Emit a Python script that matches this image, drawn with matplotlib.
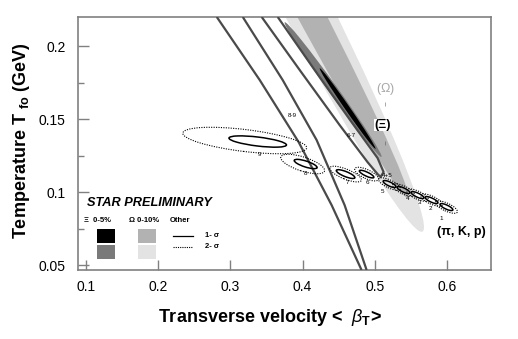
import matplotlib
matplotlib.use("Agg")
import matplotlib.pyplot as plt
from matplotlib.patches import Ellipse, Rectangle
from matplotlib.transforms import Affine2D

plt.rcParams['font.family'] = ['Liberation Sans', 'DejaVu Sans']
plt.rcParams['mathtext.fontset'] = 'custom'
plt.rcParams['mathtext.rm'] = 'Liberation Sans'
plt.rcParams['mathtext.it'] = 'Liberation Sans:italic'
plt.rcParams['mathtext.bf'] = 'Liberation Sans:bold'

# axis setup
x_lim = (0.089, 0.661)
y_lim = (0.0466, 0.2199)
x_ticks = [0.1, 0.2, 0.3, 0.4, 0.5, 0.6]
x_tick_labels = ["0.1", "0.2", "0.3", "0.4", "0.5", "0.6"]
y_ticks = [0.05, 0.1, 0.15, 0.2]
y_tick_labels = ["0.05", "0.1", "0.15", "0.2"]
y_minor = [0.075, 0.125, 0.175]

# Omega (0-10%) and Xi (0-5%) fit contours: centre x, centre y, half length, half width (x units), angle
omega_2s = (0.3631, 0.2674, 0.4426, 0.0332, -62.7)
omega_1s = (0.3631, 0.2674, 0.3914, 0.0192, -62.2)
xi_2s = (0.4423, 0.1702, 0.1148, 0.0062, -54.3)
xi_1s = (0.4624, 0.1572, 0.0678, 0.0033, -55.3)

# pi, K, p contours per centrality bin
pkp_bins = ["9", "8", "7", "6", "5", "4", "3", "2", "1"]
pkp_cx = [0.3199, 0.4001, 0.4596, 0.4887, 0.5205, 0.5398, 0.5592, 0.5786, 0.5993]
pkp_cy = [0.1353, 0.1192, 0.1123, 0.1123, 0.1055, 0.1014, 0.0979, 0.0945, 0.0897]
pkp_in_cx = [0.3379, 0.4043, 0.4596, 0.4887, 0.5205, 0.5398, 0.5592, 0.5786, 0.5993]
pkp_in_cy = [0.1346, 0.1192, 0.1123, 0.1123, 0.1055, 0.1014, 0.0979, 0.0945, 0.0897]
pkp_a2 = [0.0864, 0.0318, 0.0235, 0.0180, 0.0166, 0.0166, 0.0166, 0.0166, 0.0166]
pkp_b2 = [0.0152, 0.0097, 0.0069, 0.0062, 0.0055, 0.0055, 0.0055, 0.0055, 0.0055]
pkp_a1 = [0.0401, 0.0166, 0.0138, 0.0110, 0.0097, 0.0097, 0.0097, 0.0097, 0.0097]
pkp_b1 = [0.0062, 0.0041, 0.0035, 0.0028, 0.0028, 0.0028, 0.0028, 0.0028, 0.0028]
pkp_ang = [-6.9, -18, -22, -25, -25, -25, -25, -25, -25]
pkp_lab_x = [0.3407, 0.4043, 0.4624, 0.4900, 0.5108, 0.5454, 0.5620, 0.5772, 0.5924]
pkp_lab_y = [0.1260, 0.1130, 0.1062, 0.1062, 0.1007, 0.0959, 0.0925, 0.0890, 0.0822]

# other particles, 1-sigma contours
line_a_x = [0.2812, 0.3407, 0.3946, 0.4402, 0.4817]
line_a_y = [0.2199, 0.1767, 0.1342, 0.0911, 0.0466]
line_b_x = [0.3172, 0.3725, 0.4195, 0.4582, 0.4887]
line_b_y = [0.2199, 0.1767, 0.1356, 0.0911, 0.0466]
loop_x = [0.3434, 0.3960, 0.4513, 0.4900, 0.5039, 0.5080, 0.5122, 0.5039, 0.4679, 0.4167, 0.3656]
loop_y = [0.2199, 0.1836, 0.1459, 0.1205, 0.1123, 0.1103, 0.1137, 0.1233, 0.1479, 0.1836, 0.2199]
other_labels = ["8-9", "6-7", "4+5"]
other_lab_x = [0.3863, 0.4679, 0.5177]
other_lab_y = [0.1527, 0.1390, 0.1116]

fig = plt.figure(figsize=(5.18, 3.39), dpi=100)
ax = fig.add_axes([0.1506, 0.2035, 0.7973, 0.7464])
ax.set_xlim(*x_lim)
ax.set_ylim(*y_lim)

# ratio so that ellipse shapes follow the display aspect
w_px = 0.7973 * 518
h_px = 0.7464 * 339
k = (w_px / (x_lim[1] - x_lim[0])) / (h_px / (y_lim[1] - y_lim[0]))
iso = Affine2D().scale(1, k) + ax.transData


def ell(p, **kw):
    cx, cy, a, b, ang = p
    e = Ellipse((cx, cy / k), 2 * a, 2 * b, angle=ang, transform=iso, **kw)
    ax.add_patch(e)


ell(omega_2s, facecolor='#e3e3e3', edgecolor='none', zorder=1)
ell(omega_1s, facecolor='#b2b2b2', edgecolor='none', zorder=2)
ell(xi_2s, facecolor='#7a7a7a', edgecolor='none', zorder=3)
ell(xi_1s, facecolor='black', edgecolor='none', zorder=4)

for xs, ys in [(line_a_x, line_a_y), (line_b_x, line_b_y), (loop_x, loop_y)]:
    ax.plot(xs, ys, color='#4a4a4a', lw=1.6, zorder=5, solid_capstyle='butt', solid_joinstyle='round')

for i in range(len(pkp_bins)):
    ell((pkp_cx[i], pkp_cy[i], pkp_a2[i], pkp_b2[i], pkp_ang[i]),
        facecolor='none', edgecolor='black', lw=0.8, ls=(0, (1, 1.2)), zorder=6)
    ell((pkp_in_cx[i], pkp_in_cy[i], pkp_a1[i], pkp_b1[i], pkp_ang[i]),
        facecolor='none', edgecolor='black', lw=1.1, zorder=6)
    ax.text(pkp_lab_x[i], pkp_lab_y[i], pkp_bins[i], fontsize=4.5, ha='center', va='center', zorder=7)

for t, x, y in zip(other_labels, other_lab_x, other_lab_y):
    ax.text(x, y, t, fontsize=4.5, ha='center', va='center', zorder=7)

ax.text(0.515, 0.1705, r"($\Omega$)", color='#a8a8a8', fontsize=9, ha='center', va='center', zorder=8)
ax.plot([0.5135], [0.1603], marker='|', color='#a8a8a8', ms=3, mew=0.7, zorder=8)
ax.text(0.5115, 0.146, "(Ξ)", color='black', fontsize=9, fontweight='bold', ha='center', va='center',
        zorder=8, bbox=dict(facecolor='white', edgecolor='none', pad=0.3))
ax.plot([0.5135], [0.1336], marker='|', color='#808080', ms=3, mew=0.7, zorder=8)
ax.text(0.620, 0.0726, "(π, K, p)", color='black', fontsize=9, fontweight='bold', ha='center', va='center')

# legend block
ax.text(0.022, 0.265, "STAR PRELIMINARY", transform=ax.transAxes, fontsize=9.2,
        fontweight='bold', fontstyle='italic', va='center', ha='left')
ax.text(0.0145, 0.194, "Ξ  0-5%", transform=ax.transAxes, fontsize=5.5, fontweight='bold', va='center')
ax.text(0.123, 0.194, "Ω 0-10%", transform=ax.transAxes, fontsize=5.5, fontweight='bold', va='center')
ax.text(0.223, 0.194, "Other", transform=ax.transAxes, fontsize=5.5, fontweight='bold', va='center')
for x0, y0, c in [(0.046, 0.107, 'black'), (0.046, 0.0435, '#7a7a7a'),
                  (0.145, 0.107, '#b2b2b2'), (0.145, 0.0435, '#e3e3e3')]:
    ax.add_patch(Rectangle((x0, y0), 0.0436, 0.055, transform=ax.transAxes, facecolor=c, edgecolor='none'))
ax.plot([0.230, 0.278], [0.134, 0.134], transform=ax.transAxes, color='black', lw=0.9)
ax.plot([0.230, 0.278], [0.091, 0.091], transform=ax.transAxes, color='black', lw=0.8, ls=(0, (1, 1)))
ax.text(0.3075, 0.136, "1- σ", transform=ax.transAxes, fontsize=5.5, fontweight='bold', va='center')
ax.text(0.3075, 0.093, "2- σ", transform=ax.transAxes, fontsize=5.5, fontweight='bold', va='center')

# axes styling
for s in ax.spines.values():
    s.set_color('#808080')
    s.set_linewidth(1.2)
ax.set_xticks(x_ticks)
ax.set_xticklabels(x_tick_labels)
ax.set_yticks(y_ticks)
ax.set_yticklabels(y_tick_labels)
ax.set_yticks(y_minor, minor=True)
ax.tick_params(axis='x', direction='in', length=7, width=1, color='#808080', labelsize=10, pad=7)
ax.tick_params(axis='y', direction='in', length=8, width=1, color='#808080', labelsize=10, pad=9)
ax.tick_params(axis='y', which='minor', direction='in', length=4, width=1, color='#808080')

fig.text(22 / 518, 1 - 141 / 339, r"Temperature T $_{\mathbf{fo}}$ (GeV)", rotation=90,
         fontsize=13, fontweight='bold', ha='center', va='center')
fig.text(270 / 518, 1 - 317 / 339, r"Transverse velocity <  $\beta_{\mathbf{T}}$>",
         fontsize=13, fontweight='bold', ha='center', va='center')

fig.savefig("out.png", dpi=100)
